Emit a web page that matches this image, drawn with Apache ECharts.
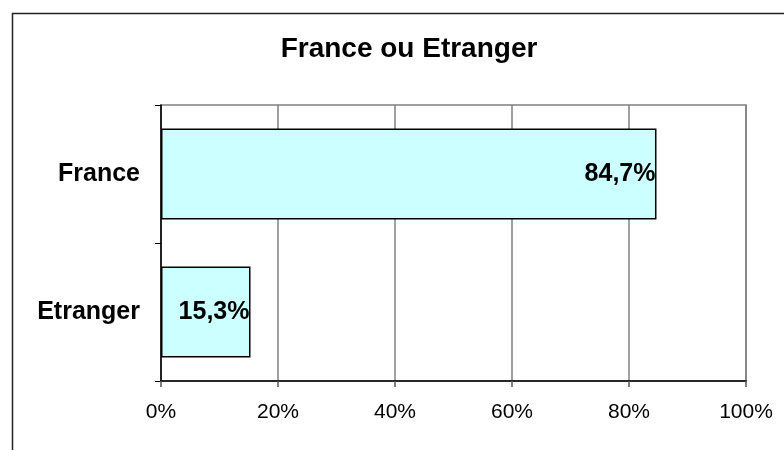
<!DOCTYPE html>
<html>
<head>
<meta charset="utf-8">
<script src="https://cdn.jsdelivr.net/npm/echarts@6/dist/echarts.min.js"></script>
<style>html,body{margin:0;padding:0;background:#fff;}#c{width:784px;height:450px;}</style>
</head>
<body>
<div id="c"></div>
<script>
const titleText = 'France ou Etranger';
const categories = ['France', 'Etranger'];
const values = [84.7, 15.3];
const xTicks = [0, 20, 40, 60, 80, 100];

const FONT = '"Liberation Sans", Arial, sans-serif';
const chart = echarts.init(document.getElementById('c'), null, {renderer: 'canvas'});
chart.setOption({
  animation: false,
  backgroundColor: '#ffffff',
  graphic: [{
    type: 'rect', left: 10, top: 11,
    shape: {x: 0, y: 0, width: 800, height: 500},
    style: {fill: 'none', stroke: '#222', lineWidth: 1.5}, z: -1
  }],
  title: {
    text: titleText, left: 404, top: 30, textAlign: 'center',
    textStyle: {fontFamily: FONT, fontWeight: 'bold', fontSize: 28, color: '#000'}
  },
  grid: {left: 161, right: 38, top: 105, bottom: 69, show: true, borderColor: '#808080', borderWidth: 1.5, backgroundColor: 'transparent'},
  xAxis: {
    type: 'value', min: xTicks[0], max: xTicks[xTicks.length - 1], interval: 20,
    axisLine: {show: true, lineStyle: {color: '#000', width: 1.5}},
    axisTick: {show: true, length: 6, lineStyle: {color: '#555', width: 1.5}},
    splitLine: {show: true, lineStyle: {color: '#808080', width: 1.5}},
    axisLabel: {formatter: v => v + '%', fontFamily: FONT, fontSize: 21, color: '#000', margin: 21}
  },
  yAxis: {
    type: 'category', data: categories, inverse: true,
    axisLine: {show: true, lineStyle: {color: '#000', width: 1.5}},
    axisTick: {show: true, length: 6, lineStyle: {color: '#000', width: 1}},
    axisLabel: {fontFamily: FONT, fontWeight: 'bold', fontSize: 25, color: '#000', margin: 21}
  },
  series: [{
    type: 'bar', data: values, barWidth: '66%',
    itemStyle: {color: '#CCFFFF', borderColor: '#000', borderWidth: 1.5},
    label: {
      show: true, position: 'insideRight', distance: 1,
      formatter: p => p.value.toFixed(1).replace('.', ',') + '%',
      fontFamily: FONT, fontWeight: 'bold', fontSize: 25, color: '#000'
    }
  }]
});
</script>
</body>
</html>
